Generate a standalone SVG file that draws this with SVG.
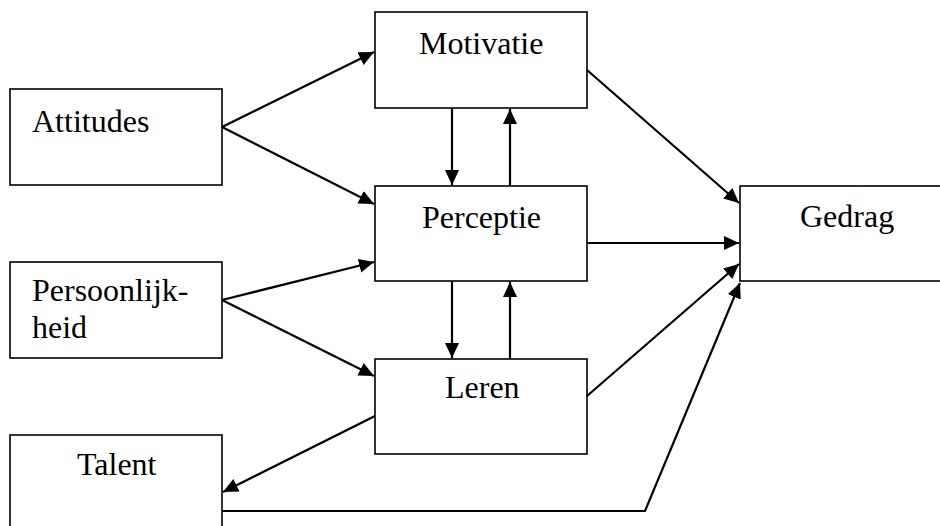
<svg xmlns="http://www.w3.org/2000/svg" width="940" height="526" viewBox="0 0 940 526">
<style>
.box{fill:#fff;stroke:#000;stroke-width:1.6}
.lbl{font-family:'Liberation Serif','Times New Roman',serif;font-size:32px;fill:#000}
.con{fill:none;stroke:#000;stroke-width:2.2}
</style>
<defs>
<marker id="ah" markerUnits="userSpaceOnUse" markerWidth="17" markerHeight="15" refX="15" refY="7" orient="auto">
<path d="M0,0 L15,7 L0,14 z" fill="#000"/>
</marker>
</defs>
<rect width="940" height="526" fill="#fff"/>
<g id="attitudes"><rect class="box" x="10" y="89" width="212" height="96"/><text class="lbl" x="32" y="132">Attitudes</text></g>
<g id="persoonlijkheid"><rect class="box" x="10" y="262" width="212" height="96"/><text class="lbl" x="32" y="301">Persoonlijk-</text><text class="lbl" x="32" y="338">heid</text></g>
<g id="talent"><rect class="box" x="10" y="435" width="212" height="100"/><text class="lbl" x="77" y="475">Talent</text></g>
<g id="motivatie"><rect class="box" x="375" y="12" width="212" height="96"/><text class="lbl" x="419" y="54">Motivatie</text></g>
<g id="perceptie"><rect class="box" x="375" y="186" width="212" height="95"/><text class="lbl" x="422" y="228">Perceptie</text></g>
<g id="leren"><rect class="box" x="375" y="359" width="212" height="95"/><text class="lbl" x="445" y="398">Leren</text></g>
<g id="gedrag"><rect class="box" x="740" y="186" width="220" height="95"/><text class="lbl" x="800" y="227">Gedrag</text></g>
<g id="connectors">
<line class="con" x1="222" y1="127" x2="374" y2="52" marker-end="url(#ah)"/>
<line class="con" x1="222" y1="127" x2="374" y2="204" marker-end="url(#ah)"/>
<line class="con" x1="452" y1="108" x2="452" y2="185" marker-end="url(#ah)"/>
<line class="con" x1="510" y1="186" x2="510" y2="109" marker-end="url(#ah)"/>
<line class="con" x1="452" y1="281" x2="452" y2="358" marker-end="url(#ah)"/>
<line class="con" x1="510" y1="359" x2="510" y2="282" marker-end="url(#ah)"/>
<line class="con" x1="587" y1="70" x2="739" y2="203" marker-end="url(#ah)"/>
<line class="con" x1="587" y1="243" x2="739" y2="243" marker-end="url(#ah)"/>
<line class="con" x1="222" y1="300" x2="374" y2="262" marker-end="url(#ah)"/>
<line class="con" x1="222" y1="300" x2="374" y2="376" marker-end="url(#ah)"/>
<line class="con" x1="375" y1="416" x2="223" y2="492" marker-end="url(#ah)"/>
<line class="con" x1="587" y1="396" x2="739" y2="264" marker-end="url(#ah)"/>
<polyline class="con" points="222,511 645,511 740,283" marker-end="url(#ah)"/>
</g>
</svg>
